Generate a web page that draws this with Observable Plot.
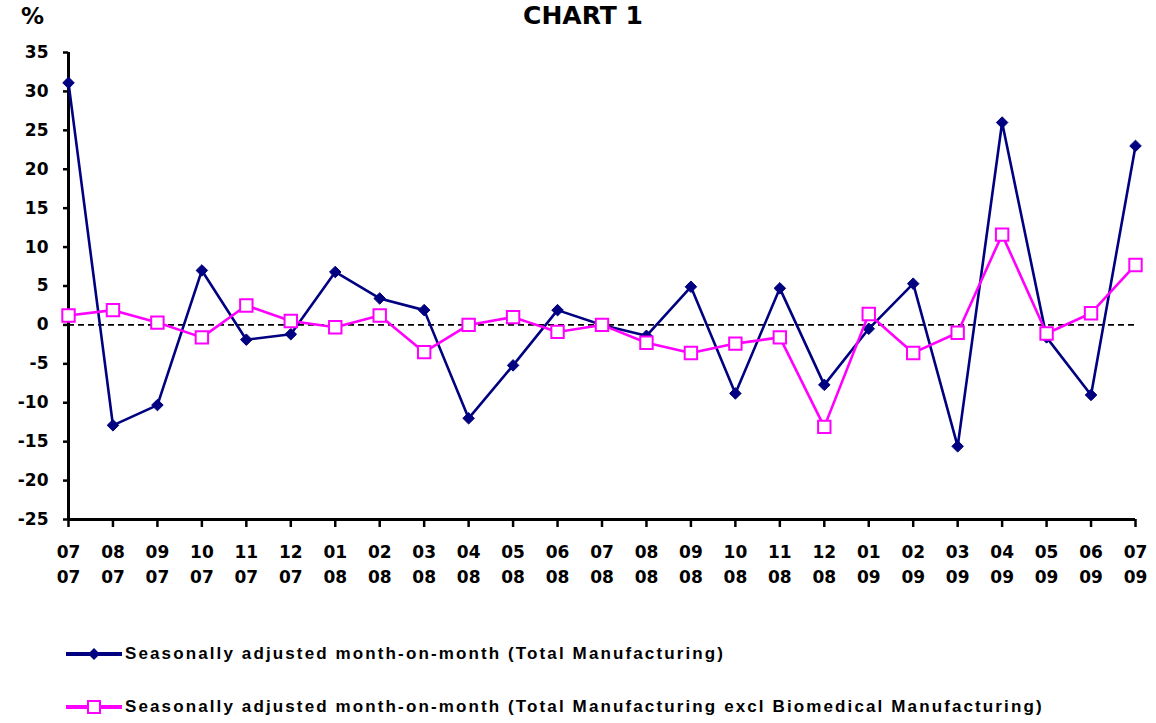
<!DOCTYPE html>
<html>
<head>
<meta charset="utf-8">
<script src="https://cdn.jsdelivr.net/npm/d3@7"></script>
<script src="https://cdn.jsdelivr.net/npm/@observablehq/plot@0.6"></script>
<style>
  html, body { margin: 0; padding: 0; background: #fff; }
  body { width: 1156px; height: 723px; position: relative; overflow: hidden; }
  #title { position: absolute; left: 0; width: 1166px; top: 1px; text-align: center;
           font: bold 25px "DejaVu Sans", sans-serif; color: #000; }
  #pct { position: absolute; left: 21px; top: 3px; font: bold 23px "DejaVu Sans", sans-serif; color: #000; }
  #chart { position: absolute; left: 0; top: 0; }
  .leg { position: absolute; left: 66px; height: 24px; display: flex; align-items: center;
         font: bold 17px "Liberation Sans", Arial, sans-serif; letter-spacing: 2.12px; color: #000; white-space: nowrap; }
  .leg svg { margin-right: 3px; }
</style>
</head>
<body>
<div id="chart"></div>
<div id="title">CHART 1</div>
<div id="pct">%</div>
<div class="leg" style="top:642px">
  <svg width="56" height="16"><line x1="0" y1="8" x2="56" y2="8" stroke="#000080" stroke-width="4"/><path d="M28,2 L34,8 L28,14 L22,8 Z" fill="#000080"/></svg>
  <span id="leg1"></span>
</div>
<div class="leg" style="top:695px">
  <svg width="56" height="16"><line x1="0" y1="8" x2="56" y2="8" stroke="#FF00FF" stroke-width="4"/><rect x="22" y="2" width="12" height="12" fill="#fff" stroke="#FF00FF" stroke-width="2"/></svg>
  <span id="leg2"></span>
</div>
<script>
const months = ["07","08","09","10","11","12","01","02","03","04","05","06","07","08","09","10","11","12","01","02","03","04","05","06","07"];
const years  = ["07","07","07","07","07","07","08","08","08","08","08","08","08","08","08","08","08","08","09","09","09","09","09","09","09"];
const totalMfg = [31.1, -12.9, -10.3, 7.0, -1.9, -1.2, 6.8, 3.4, 1.9, -12.0, -5.2, 1.9, 0.0, -1.4, 4.9, -8.8, 4.7, -7.7, -0.5, 5.3, -15.6, 26.0, -1.6, -9.0, 23.0];
const exclBiomed = [1.2, 1.9, 0.3, -1.6, 2.5, 0.5, -0.3, 1.2, -3.5, 0.0, 1.0, -0.9, 0.0, -2.3, -3.6, -2.4, -1.6, -13.1, 1.4, -3.6, -1.0, 11.6, -1.1, 1.5, 7.7];
const yTicks = [-25, -20, -15, -10, -5, 0, 5, 10, 15, 20, 25, 30, 35];
const seriesNames = [
  "Seasonally adjusted month-on-month (Total Manufacturing)",
  "Seasonally adjusted month-on-month (Total Manufacturing excl Biomedical Manufacturing)"
];

const periods = months.map((m, i) => m + "/" + years[i]);
const data = periods.map((p, i) => ({period: p, total: totalMfg[i], excl: exclBiomed[i]}));
const labelOf = new Map(periods.map((p, i) => [p, months[i] + "\n" + years[i]]));

document.getElementById("leg1").textContent = seriesNames[0];
document.getElementById("leg2").textContent = seriesNames[1];

const chart = Plot.plot({
  width: 1156,
  height: 600,
  marginTop: 52,
  marginBottom: 81,
  marginLeft: 68,
  marginRight: 21,
  style: {fontFamily: "DejaVu Sans, sans-serif", fontSize: "17px", fontWeight: "bold", color: "#000", background: "#fff"},
  x: {type: "point", domain: periods, padding: 0, round: false},
  y: {domain: [-25, 35]},
  marks: [
    Plot.ruleY([0], {stroke: "#000", strokeWidth: 1.8, strokeDasharray: "6,4"}),
    Plot.axisY({ticks: yTicks, tickFormat: d => String(d), tickSize: 5, tickPadding: 15, strokeWidth: 2.5, label: null, fontWeight: "bold"}),
    Plot.axisX({tickFormat: d => labelOf.get(d), tickSize: 8, tickPadding: 13, strokeWidth: 2.5, lineHeight: 1.45, label: null, fontWeight: "bold"}),
    Plot.ruleY([-25], {stroke: "#000", strokeWidth: 3}),
    Plot.ruleX([periods[0]], {y1: -25, y2: 35, stroke: "#000", strokeWidth: 3}),
    Plot.line(data, {x: "period", y: "total", stroke: "#000080", strokeWidth: 2.6}),
    Plot.dot(data, {x: "period", y: "total", symbol: "diamond2", r: 5.2, fill: "#000080", stroke: "#000080", strokeWidth: 1}),
    Plot.line(data, {x: "period", y: "excl", stroke: "#FF00FF", strokeWidth: 2.6}),
    Plot.dot(data, {x: "period", y: "excl", symbol: "square", r: 7, fill: "#fff", stroke: "#FF00FF", strokeWidth: 2})
  ]
});
document.getElementById("chart").appendChild(chart);
</script>
</body>
</html>
